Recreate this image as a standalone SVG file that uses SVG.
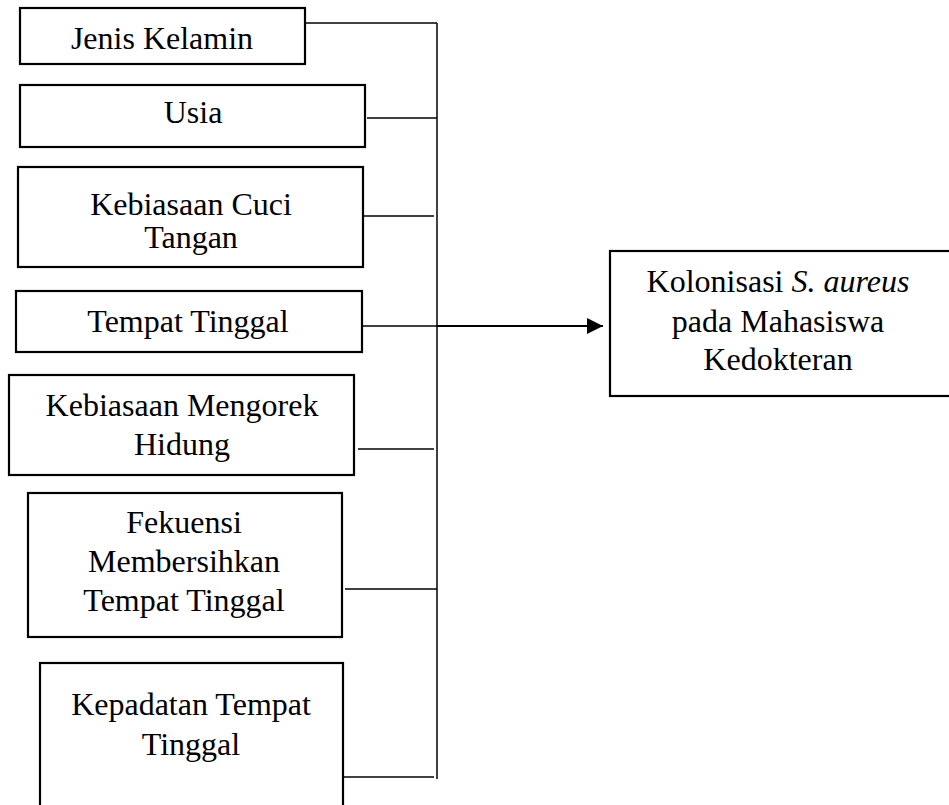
<svg xmlns="http://www.w3.org/2000/svg" width="949" height="805" viewBox="0 0 949 805">
<style>
.box{fill:#fff;stroke:#000;stroke-width:2.2}
.ln{stroke:#000;stroke-width:1.5;fill:none}
.t{font-family:"Liberation Serif","Times New Roman",serif;font-size:32px;fill:#000;text-anchor:middle}
</style>
<defs>
<marker id="ah" markerWidth="16" markerHeight="16" refX="16" refY="8" orient="auto" markerUnits="userSpaceOnUse">
<path d="M0,0 L16,8 L0,16 Z" fill="#000"/>
</marker>
</defs>
<rect width="949" height="805" fill="#fff"/>
<g id="connectors">
<line class="ln" x1="437" y1="23" x2="437" y2="779"/>
<line class="ln" x1="305" y1="23" x2="437" y2="23"/>
<line class="ln" x1="367" y1="118" x2="437" y2="118"/>
<line class="ln" x1="364" y1="216" x2="434" y2="216"/>
<line class="ln" x1="362" y1="326" x2="437" y2="326"/>
<line class="ln" x1="358" y1="449" x2="434" y2="449"/>
<line class="ln" x1="345" y1="589" x2="437" y2="589"/>
<line class="ln" x1="344" y1="777" x2="434" y2="777"/>
<line x1="437" y1="326" x2="603" y2="326" stroke="#000" stroke-width="2" marker-end="url(#ah)"/>
</g>
<g id="n1"><rect class="box" x="20" y="8" width="285" height="56"/><text class="t" x="162" y="49">Jenis Kelamin</text></g>
<g id="n2"><rect class="box" x="20" y="85" width="345" height="62"/><text class="t" x="193" y="123">Usia</text></g>
<g id="n3"><rect class="box" x="18" y="167" width="345" height="100"/><text class="t" x="191" y="215">Kebiasaan Cuci</text><text class="t" x="191" y="248">Tangan</text></g>
<g id="n4"><rect class="box" x="16" y="291" width="346" height="61"/><text class="t" x="188" y="332">Tempat Tinggal</text></g>
<g id="n5"><rect class="box" x="9" y="375" width="345" height="100"/><text class="t" x="182" y="416">Kebiasaan Mengorek</text><text class="t" x="182" y="455">Hidung</text></g>
<g id="n6"><rect class="box" x="28" y="493" width="314" height="144"/><text class="t" x="184" y="533">Fekuensi</text><text class="t" x="184" y="572">Membersihkan</text><text class="t" x="184" y="611">Tempat Tinggal</text></g>
<g id="n7"><rect class="box" x="40" y="663" width="303" height="150"/><text class="t" x="191" y="715">Kepadatan Tempat</text><text class="t" x="191" y="755">Tinggal</text></g>
<g id="n8"><rect class="box" x="610" y="251" width="342" height="145"/><text class="t" x="778" y="292">Kolonisasi <tspan font-style="italic">S. aureus</tspan></text><text class="t" x="778" y="332">pada Mahasiswa</text><text class="t" x="778" y="370">Kedokteran</text></g>
</svg>
